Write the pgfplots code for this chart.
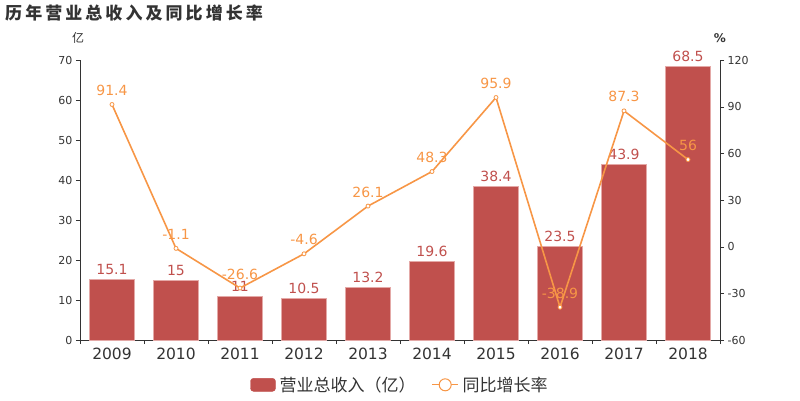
\documentclass[border=0pt]{standalone}
\usepackage{pgfplots}
\pgfplotsset{compat=1.18}
\usepackage{fontspec}
\setmainfont{DejaVu Sans}
\newfontfamily\cjk{Noto Sans CJK SC}
\newfontfamily\cjktitle[LetterSpace=18]{Noto Sans CJK SC}
\definecolor{barc}{HTML}{C0504D}
\definecolor{baredge}{HTML}{E4A9A7}
\definecolor{linec}{HTML}{F79646}
\definecolor{txt}{HTML}{333333}
\begin{document}
\begin{tikzpicture}[x=1pt,y=1pt]
\path[use as bounding box] (-80,-60) rectangle (720,340);
\node[anchor=west,font=\cjktitle\bfseries\fontsize{17}{19}\selectfont,text=txt,inner sep=0pt] at (-75,327) {历年营业总收入及同比增长率};
\node[font=\cjk\fontsize{12}{14}\selectfont,text=txt] at (-2,302) {亿};
\node[font=\fontsize{12}{14}\selectfont\bfseries,text=txt] at (640,302) {\%};
\begin{axis}[
  at={(0,0)}, anchor=south west, scale only axis,
  width=640pt, height=280pt,
  xmin=-0.5, xmax=9.5, ymin=0, ymax=70,
  ytick={0,10,...,70},
  xtick={0,...,9},
  xticklabels={2009,2010,2011,2012,2013,2014,2015,2016,2017,2018},
  minor xtick={-0.5,0.5,...,9.5},
  axis x line*=bottom, axis y line*=left,
  tick align=outside,
  major tick length=4pt,
  x tick style={draw=none},
  minor x tick style={draw=txt},
  minor tick length=4pt,
  axis line style={draw=txt},
  y tick style={draw=txt},
  tick label style={text=txt},
  /pgf/number format/assume math mode=true,
  yticklabel style={font=\fontsize{11}{13}\selectfont},
  xticklabel style={font=\fontsize{15.5}{17}\selectfont},
  ybar, bar width=45pt,
  nodes near coords,
  every node near coord/.append style={font=\fontsize{14}{16}\selectfont, text=barc, yshift=1pt},
]
\addplot[fill=barc, draw=baredge, line width=0.8pt] coordinates {
(0,15.1) (1,15) (2,11) (3,10.5) (4,13.2) (5,19.6) (6,38.4) (7,23.5) (8,43.9) (9,68.5)};
\end{axis}
\begin{axis}[
  at={(0,0)}, anchor=south west, scale only axis,
  width=640pt, height=280pt,
  xmin=-0.5, xmax=9.5, ymin=-60, ymax=120,
  ytick={-60,-30,...,120},
  axis y line*=right, axis x line=none,
  tick align=outside,
  major tick length=4pt,
  axis line style={draw=txt},
  y tick style={draw=txt},
  tick label style={text=txt},
  /pgf/number format/assume math mode=true,
  yticklabel style={font=\fontsize{11}{13}\selectfont},
  legend style={at={(0.5,-0.16)}, anchor=center, draw=none, fill=none,
    legend columns=2, font=\cjk\fontsize{17}{19}\selectfont, text=txt,
    /tikz/every odd column/.append style={column sep=2pt},
    /tikz/every even column/.append style={column sep=14pt}},
  legend cell align=left,
  legend image code/.code={},
]
\addlegendimage{legend image code/.code={\fill[barc, rounded corners=3pt] (0pt,-6.5pt) rectangle (25pt,6.5pt);}}
\addlegendentry{营业总收入（亿）}
\addplot[color=linec, line width=1.6pt, mark=*, mark size=2pt,
  mark options={fill=white, draw=linec, line width=0.8pt},
  nodes near coords,
  every node near coord/.append style={font=\fontsize{14}{16}\selectfont, text=linec, anchor=south, yshift=5pt},
  forget plot] coordinates {
(0,91.4) (1,-1.1) (2,-26.6) (3,-4.6) (4,26.1) (5,48.3) (6,95.9) (7,-38.9) (8,87.3) (9,56)};
\addlegendimage{legend image code/.code={\draw[linec, line width=1pt] (0pt,0pt) -- (26pt,0pt); \draw[linec, fill=white, line width=1pt] (13pt,0pt) circle (6pt);}}
\addlegendentry{同比增长率}
\end{axis}
\end{tikzpicture}
\end{document}
